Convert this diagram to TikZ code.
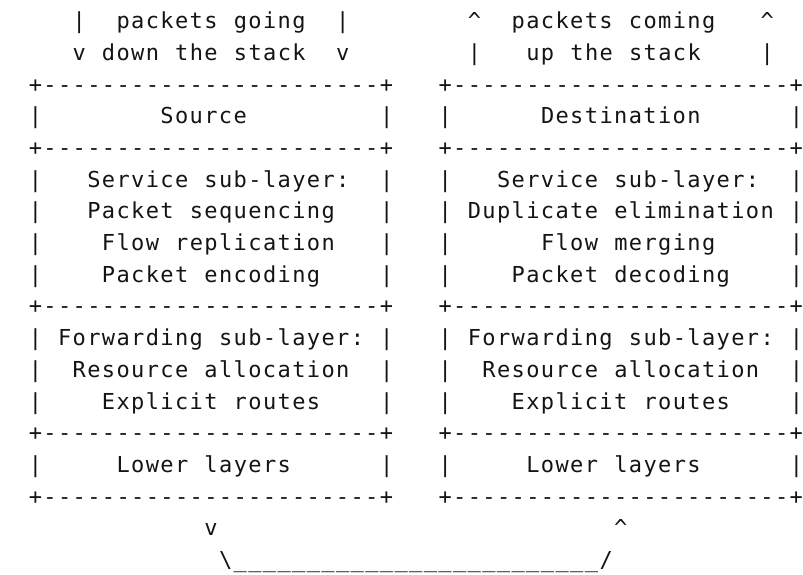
\documentclass[tikz,border=0pt]{standalone}
\usepackage{fontspec}
\setmonofont{DejaVu Sans Mono}[Ligatures=TeXOff,LetterSpace=6.3,WordSpace=1.105]
\definecolor{ink}{HTML}{141414}
\newcommand{\cw}{14.635}
\newcommand{\lh}{31.7}
\newcommand{\bz}{28.6}
\newcommand{\xz}{-0.5}
% \placetok{name}{row}{column}{text}
\newcommand{\placetok}[4]{\node[tok] (#1) at ({\xz+#3*\cw},{-\bz-#2*\lh}) {#4};}
\newcommand{\boxline}{+-----------------------+}
\begin{document}
\begin{tikzpicture}[x=1pt,y=1pt,
  tok/.style={anchor=base west, inner sep=0pt, outer sep=0pt,
    font=\ttfamily\fontsize{22}{22}\selectfont, text=ink}]
\useasboundingbox (0,0) rectangle (803,-574);
% heading arrows
\placetok{la0}{0}{5}{|}
\placetok{lt0}{0}{8}{packets going}
\placetok{lb0}{0}{23}{|}
\placetok{ra0}{0}{32}{\textasciicircum}
\placetok{rt0}{0}{35}{packets coming}
\placetok{rb0}{0}{52}{\textasciicircum}
\placetok{la1}{1}{5}{v}
\placetok{lt1}{1}{7}{down the stack}
\placetok{lb1}{1}{23}{v}
\placetok{ra1}{1}{32}{|}
\placetok{rt1}{1}{36}{up the stack}
\placetok{rb1}{1}{52}{|}
% box rules
\foreach \r in {2,4,9,13,15}{
  \placetok{lrule\r}{\r}{2}{\boxline}
  \placetok{rrule\r}{\r}{30}{\boxline}
}
% box sides
\foreach \r in {3,5,6,7,8,10,11,12,14}{
  \placetok{ls\r}{\r}{2}{|}
  \placetok{le\r}{\r}{26}{|}
  \placetok{rs\r}{\r}{30}{|}
  \placetok{re\r}{\r}{54}{|}
}
% left stack
\placetok{src}{3}{11}{Source}
\placetok{lsvc}{5}{6}{Service sub-layer:}
\placetok{lseq}{6}{6}{Packet sequencing}
\placetok{lrep}{7}{7}{Flow replication}
\placetok{lenc}{8}{7}{Packet encoding}
\placetok{lfwd}{10}{4}{Forwarding sub-layer:}
\placetok{lres}{11}{5}{Resource allocation}
\placetok{lexp}{12}{7}{Explicit routes}
\placetok{llow}{14}{8}{Lower layers}
% right stack
\placetok{dst}{3}{37}{Destination}
\placetok{rsvc}{5}{34}{Service sub-layer:}
\placetok{rdup}{6}{32}{Duplicate elimination}
\placetok{rmrg}{7}{37}{Flow merging}
\placetok{rdec}{8}{35}{Packet decoding}
\placetok{rfwd}{10}{32}{Forwarding sub-layer:}
\placetok{rres}{11}{33}{Resource allocation}
\placetok{rexp}{12}{35}{Explicit routes}
\placetok{rlow}{14}{36}{Lower layers}
% bottom link
\placetok{bv}{16}{14}{v}
\placetok{bc}{16}{42}{\textasciicircum}
\placetok{bl}{17}{15}{\textbackslash}
\placetok{bu}{17}{16}{\_\_\_\_\_\_\_\_\_\_\_\_\_\_\_\_\_\_\_\_\_\_\_\_\_}
\placetok{br}{17}{41}{/}
\end{tikzpicture}
\end{document}
